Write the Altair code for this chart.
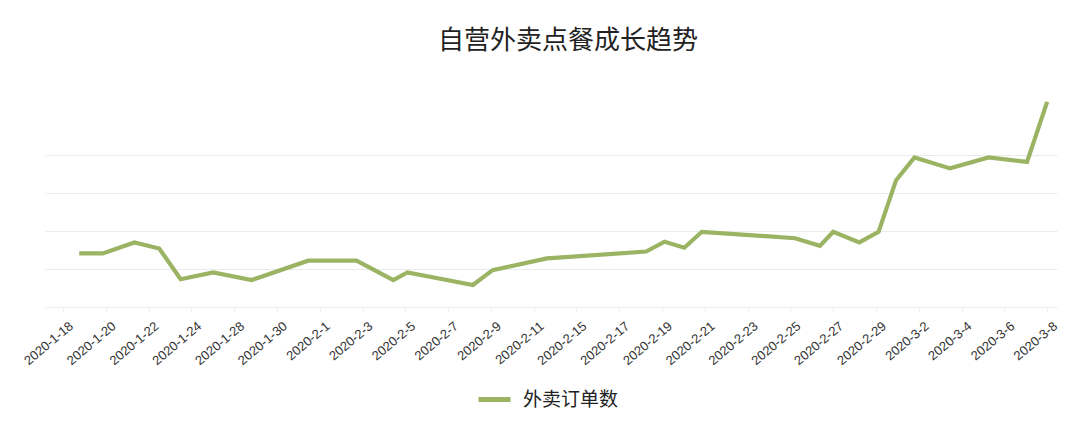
import altair as alt
import pandas as pd

title_text = "自营外卖点餐成长趋势"
series_name = "外卖订单数"

tick_labels = [
    "2020-1-18", "2020-1-20", "2020-1-22", "2020-1-24", "2020-1-28", "2020-1-30",
    "2020-2-1", "2020-2-3", "2020-2-5", "2020-2-7", "2020-2-9", "2020-2-11",
    "2020-2-15", "2020-2-17", "2020-2-19", "2020-2-21", "2020-2-23", "2020-2-25",
    "2020-2-27", "2020-2-29", "2020-3-2", "2020-3-4", "2020-3-6", "2020-3-8",
]

# position of each point along the label axis (label index units)
positions = [0.38, 0.93, 1.67, 2.25, 2.75, 3.51, 4.41, 5.73, 6.86, 7.72, 8.05,
             9.58, 10.04, 11.31, 13.63, 14.06, 14.52, 14.93, 17.11, 17.69, 18.0,
             18.61, 19.06, 19.47, 19.90, 20.73, 21.63, 22.53, 23.0]
orders = [1410, 1410, 1700, 1540, 730, 910, 710, 1220, 1220, 710, 910,
          580, 970, 1280, 1460, 1720, 1560, 1980, 1810, 1610, 1980,
          1700, 1980, 3340, 3940, 3650, 3940, 3820, 5400]

df = pd.DataFrame({"pos": positions, "orders": orders, "series": series_name})

label_arr = "[" + ",".join("'%s'" % s for s in tick_labels) + "]"

line = alt.Chart(df).mark_line(strokeWidth=4.2, strokeJoin="miter").encode(
    x=alt.X("pos:Q",
            scale=alt.Scale(domain=[-0.42, 23.23], nice=False, zero=False),
            axis=alt.Axis(values=list(range(len(tick_labels))),
                          labelExpr=label_arr + "[datum.value]",
                          title=None, grid=False, domain=False,
                          labelAngle=-40, labelAlign="right", labelBaseline="middle",
                          labelFont="Liberation Sans", labelFontSize=13,
                          labelColor="#333333", labelPadding=12, labelOffset=8,
                          tickColor="#eeeeee", tickSize=5, labelOverlap=False)),
    y=alt.Y("orders:Q",
            scale=alt.Scale(domain=[0, 6030], nice=False),
            axis=alt.Axis(values=[0, 1000, 2000, 3000, 4000], labels=False,
                          ticks=False, domain=False, title=None,
                          gridColor="#ebebeb", gridWidth=1)),
    color=alt.Color("series:N",
                    scale=alt.Scale(range=["#9AB464"]),
                    legend=alt.Legend(title=None, orient="none",
                                      legendX=431, legendY=303,
                                      symbolType="stroke", symbolSize=1024,
                                      symbolStrokeWidth=5, labelOffset=10,
                                      labelFont="Noto Sans CJK SC", labelFontSize=19,
                                      labelColor="#222222", padding=0)),
).properties(
    width=1012,
    height=229,
    title=alt.TitleParams(title_text, font="Noto Sans CJK SC", fontSize=26,
                          fontWeight="normal", color="#222222",
                          anchor="middle", dx=17, offset=24),
    padding={"left": 37, "top": 70, "right": 15, "bottom": 112},
    autosize=alt.AutoSizeParams(type="none"),
).configure_view(stroke=None)

chart = line
chart.save("out.html", embed_options={"renderer": "svg", "actions": False})
